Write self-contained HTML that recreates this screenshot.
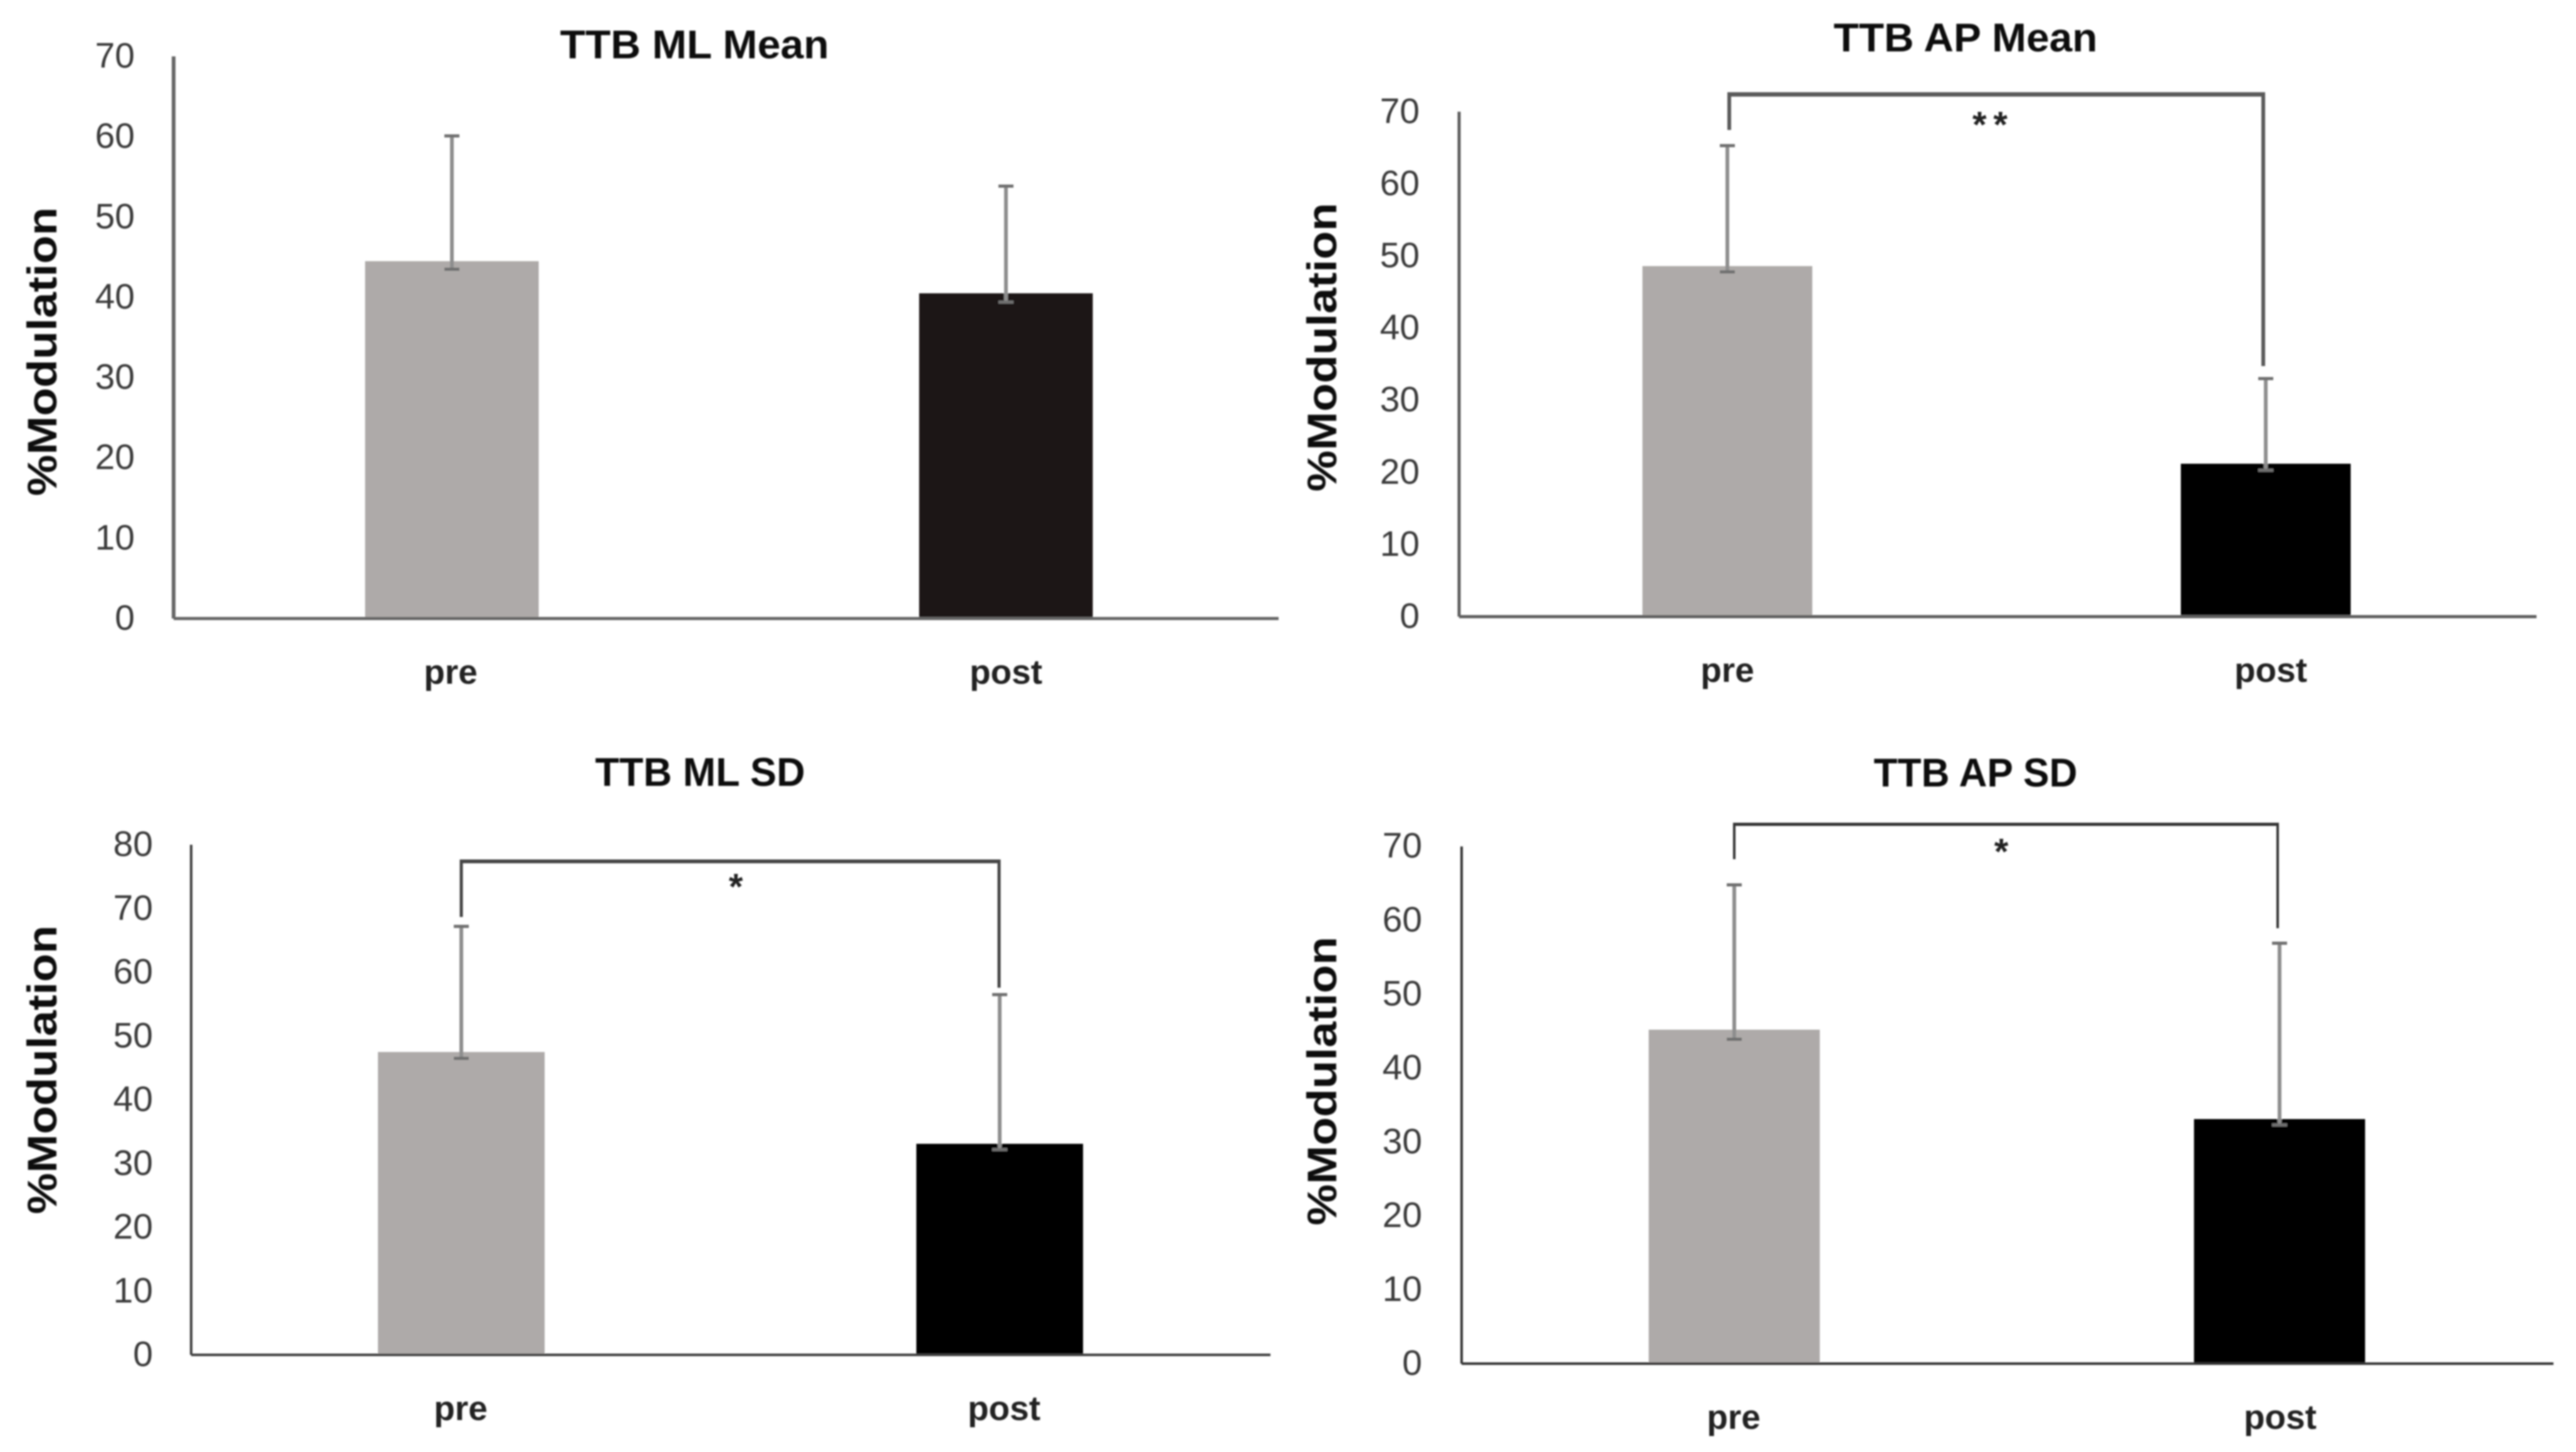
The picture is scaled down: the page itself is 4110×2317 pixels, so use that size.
<!DOCTYPE html>
<html lang="en">
<head>
<meta charset="utf-8">
<title>TTB modulation charts</title>
<style>
html,body{margin:0;padding:0;background:#fff;width:4110px;height:2317px;overflow:hidden}
svg{display:block}
text{font-family:"Liberation Sans",sans-serif}
</style>
</head>
<body>
<svg id="figure" xmlns="http://www.w3.org/2000/svg" width="4110" height="2317" viewBox="0 0 4110 2317">
<defs><filter id="soft" x="-5%" y="-5%" width="110%" height="110%"><feGaussianBlur stdDeviation="1.2"/></filter></defs>
<rect width="4110" height="2317" fill="#ffffff"/>
<g id="plots" filter="url(#soft)"></g>
</svg>
<script>
// ---- Data ----
const categories = ['pre', 'post'];
const ticksTo70 = ['0', '10', '20', '30', '40', '50', '60', '70'];
const ticksTo80 = ['0', '10', '20', '30', '40', '50', '60', '70', '80'];

const mlMeanValues = [44.5, 40.5];
const mlMeanUpper = [60.1, 53.85];
const mlMeanLower = [43.5, 39.4];

const apMeanValues = [48.6, 21.2];
const apMeanUpper = [65.3, 33.0];
const apMeanLower = [47.8, 20.3];

const mlSdValues = [47.5, 33.1];
const mlSdUpper = [67.2, 56.5];
const mlSdLower = [46.5, 32.2];

const apSdValues = [45.2, 33.1];
const apSdUpper = [64.8, 56.9];
const apSdLower = [43.9, 32.3];

// ---- Panel layout ----
const panels = [
  {key:'ml-mean', title:'TTB ML Mean', titleX:1108, titleY:93, titleW:429,
   x0:277, xEnd:2040, y0:987, yPer10:128.14, ticks:ticksTo70, tickX:215, axisW:5, axisVW:6, axisColor:'#666666',
   centers:[721,1605], barW:277, colors:['#aeaaa9','#1a1818'], labelX:[719,1605], labelY:1091,
   values:mlMeanValues, upper:mlMeanUpper, lower:mlMeanLower, yTitleX:90, yTitleY:561, sig:null},
  {key:'ap-mean', title:'TTB AP Mean', titleX:3136, titleY:82, titleW:421,
   x0:2328, xEnd:4047, y0:984, yPer10:115.1, ticks:ticksTo70, tickX:2265, axisW:5, axisVW:5, axisColor:'#5f5f5f',
   centers:[2756,3615], barW:271, colors:['#aeaaa9','#000000'], labelX:[2756,3623], labelY:1088,
   values:apMeanValues, upper:apMeanUpper, lower:apMeanLower, yTitleX:2132, yTitleY:554,
   sig:{text:'**', level:72.4, xs:[2759,3611], gaps:[25,20], sx:3175, sy:219, w:56, sw:7, vw:6, color:'#5a5a5a'}},
  {key:'ml-sd', title:'TTB ML SD', titleX:1117, titleY:1254, titleW:335,
   x0:305, xEnd:2027, y0:2162, yPer10:101.75, ticks:ticksTo80, tickX:244, axisW:4, axisVW:4, axisColor:'#3c3c3c',
   centers:[736,1595], barW:266, colors:['#aeaaa9','#000000'], labelX:[735,1602], labelY:2266,
   values:mlSdValues, upper:mlSdUpper, lower:mlSdLower, yTitleX:90, yTitleY:1707,
   sig:{text:'*', level:77.4, xs:[736,1594], gaps:[15,11], sx:1174, sy:1435, w:24, sw:6, vw:5, color:'#444444'}},
  {key:'ap-sd', title:'TTB AP SD', titleX:3152, titleY:1255, titleW:325,
   x0:2332, xEnd:4074, y0:2176, yPer10:117.9, ticks:ticksTo70, tickX:2269, axisW:4, axisVW:4, axisColor:'#333333',
   centers:[2767,3637], barW:273, colors:['#aeaaa9','#000000'], labelX:[2766,3638], labelY:2280,
   values:apSdValues, upper:apSdUpper, lower:apSdLower, yTitleX:2132, yTitleY:1725,
   sig:{text:'*', level:73.0, xs:[2767,3634], gaps:[41,24], sx:3193, sy:1379, w:24, sw:5, vw:4, color:'#333333'}}
];

const SVG_NS = 'http://www.w3.org/2000/svg';
const plots = document.getElementById('plots');

function shape(parent, tag, attrs, content) {
  const node = document.createElementNS(SVG_NS, tag);
  for (const k in attrs) node.setAttribute(k, attrs[k]);
  if (content !== undefined) node.textContent = content;
  parent.appendChild(node);
  return node;
}

function drawPanel(p) {
  const yScale = function (v) { return p.y0 - v / 10 * p.yPer10; };
  const top = yScale((p.ticks.length - 1) * 10);

  const g = shape(plots, 'g', {});
  
  

  const title = shape(g, 'text', {x:p.titleX, y:p.titleY, 'text-anchor':'middle', 'font-size':64, 'font-weight':'bold', fill:'#111111', textLength:p.titleW, lengthAdjust:'spacingAndGlyphs'}, p.title);
  
  

  const yTitle = shape(g, 'text', {transform:'translate(' + p.yTitleX + ' ' + p.yTitleY + ') rotate(-90)', 'text-anchor':'middle', 'font-size':66, 'font-weight':'bold', fill:'#111111', textLength:461, lengthAdjust:'spacingAndGlyphs'}, '%Modulation');
  
  

  p.ticks.forEach(function (label, i) {
    const tick = shape(g, 'text', {x:p.tickX, y:yScale(Number(label)) + 18, 'text-anchor':'end', 'font-size':57, fill:'#3a3a3a'}, label);
    
    
  });

  categories.forEach(function (cat, i) {
    const bar = shape(g, 'rect', {x:p.centers[i] - p.barW / 2, y:yScale(p.values[i]), width:p.barW, height:yScale(0) - yScale(p.values[i]), fill:p.colors[i]});
    
    
  });

  const yAxis = shape(g, 'line', {x1:p.x0, x2:p.x0, y1:top, y2:p.y0, stroke:p.axisColor, 'stroke-width':p.axisVW});
  
  

  const xAxis = shape(g, 'line', {x1:p.x0, x2:p.xEnd, y1:p.y0, y2:p.y0, stroke:p.axisColor, 'stroke-width':p.axisW});
  
  

  categories.forEach(function (cat, i) {
    const cx = p.centers[i];
    const stem = shape(g, 'line', {x1:cx, x2:cx, y1:yScale(p.upper[i]), y2:yScale(p.lower[i]), stroke:'#8e8e8e', 'stroke-width':6});
    
    

    const capTop = shape(g, 'line', {x1:cx - 12, x2:cx + 12, y1:yScale(p.upper[i]), y2:yScale(p.upper[i]), stroke:'#6f6f6f', 'stroke-width':5});
    
    

    const capBottom = shape(g, 'line', {x1:cx - 12, x2:cx + 12, y1:yScale(p.lower[i]), y2:yScale(p.lower[i]), stroke:'#6f6f6f', 'stroke-width':5});
    
    

    const label = shape(g, 'text', {x:p.labelX[i], y:p.labelY, 'text-anchor':'middle', 'font-size':55, 'font-weight':'bold', fill:'#222222'}, cat);
    
    
  });

  if (p.sig) {
    const s = p.sig;
    const yTop = yScale(s.level);
    const yLeft = yScale(p.upper[0]) - s.gaps[0];
    const yRight = yScale(p.upper[1]) - s.gaps[1];
    const leftLeg = shape(g, 'line', {x1:s.xs[0], x2:s.xs[0], y1:yTop, y2:yLeft, stroke:s.color, 'stroke-width':s.vw});
    
    

    const rightLeg = shape(g, 'line', {x1:s.xs[1], x2:s.xs[1], y1:yTop, y2:yRight, stroke:s.color, 'stroke-width':s.vw});
    
    

    const span = shape(g, 'line', {x1:s.xs[0] - s.vw / 2, x2:s.xs[1] + s.vw / 2, y1:yTop, y2:yTop, stroke:s.color, 'stroke-width':s.sw});
    
    

    const star = shape(g, 'text', {x:s.sx, y:s.sy, 'text-anchor':'middle', 'font-size':58, 'font-weight':'bold', fill:'#222222', textLength:s.w, lengthAdjust:'spacing'}, s.text);
    
    
  }
}

panels.forEach(drawPanel);
</script>
</body>
</html>
